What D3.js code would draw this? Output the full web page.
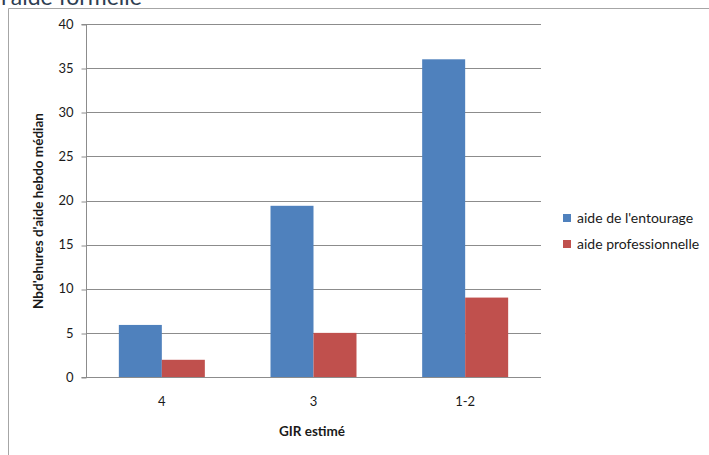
<!DOCTYPE html>
<html>
<head>
<meta charset="utf-8">
<script src="https://cdn.jsdelivr.net/npm/d3@7"></script>
<style>
  html, body { margin: 0; padding: 0; background: #fff; }
  svg { display: block; }
  text { font-family: Lato, "Open Sans", sans-serif; }
</style>
</head>
<body>
<svg id="chart" width="709" height="455"></svg>
<script>
// Median weekly hours of help by estimated GIR level
const categories = ["4", "3", "1-2"];
const seriesNames = ["aide de l'entourage", "aide professionnelle"];
const entourage = [5.9, 19.4, 36];
const professionnelle = [1.95, 5.0, 9.0];
const yTicks = [0, 5, 10, 15, 20, 25, 30, 35, 40];
const colors = ["#4F81BD", "#C0504D"];

const seriesValues = [entourage, professionnelle];
const rows = categories.map((c, i) => ({
  cat: c,
  vals: seriesNames.map((s, j) => ({ key: s, value: seriesValues[j][i] }))
}));

const svg = d3.select("#chart");
const plot = { left: 86, right: 541, top: 24, bottom: 377 };

const x = d3.scaleBand()
  .domain(categories)
  .range([plot.left, plot.right])
  .paddingInner(0.433)
  .paddingOuter(0.2165);

const xs = d3.scaleBand()
  .domain(seriesNames)
  .range([0, x.bandwidth()])
  .padding(0);

const y = d3.scaleLinear()
  .domain([0, 40])
  .range([plot.bottom, plot.top]);

const crisp = v => Math.round(v) + 0.5;

// Page heading, partly above the top edge
svg.append("text")
  .attr("x", 1)
  .attr("y", 5)
  .attr("fill", "#2E3E52")
  .style("font-size", "23px")
  .text("l'aide formelle");

// Chart frame
svg.append("path")
  .attr("d", "M8.5,455 V8.5 H709")
  .attr("fill", "none")
  .attr("stroke", "#a6a6a6")
  .attr("stroke-width", 1);

// Horizontal gridlines
svg.append("g")
  .selectAll("line")
  .data(yTicks.filter(t => t > 0))
  .join("line")
  .attr("x1", plot.left)
  .attr("x2", plot.right)
  .attr("y1", d => crisp(y(d)))
  .attr("y2", d => crisp(y(d)))
  .attr("stroke", "#8c8c8c")
  .attr("stroke-width", 1);

// Bars
const groups = svg.append("g")
  .selectAll("g")
  .data(rows)
  .join("g")
  .attr("transform", d => `translate(${x(d.cat)},0)`);

groups.selectAll("rect")
  .data(d => d.vals)
  .join("rect")
  .attr("x", d => xs(d.key))
  .attr("width", xs.bandwidth())
  .attr("y", d => y(d.value))
  .attr("height", d => y(0) - y(d.value))
  .attr("fill", (d, i) => colors[i]);

// Y axis
const yAxis = svg.append("g")
  .attr("transform", `translate(${plot.left + 0.5},0)`)
  .call(d3.axisLeft(y).tickValues(yTicks).tickSize(5).tickPadding(8).tickFormat(d3.format("d")));
yAxis.select(".domain").attr("stroke", "#8c8c8c").attr("d", `M-5,${crisp(y(40))}H0V${crisp(y(0))}H-5`);
yAxis.selectAll(".tick line").attr("stroke", "#8c8c8c")
  .attr("transform", d => `translate(0,${crisp(y(d)) - y(d)})`);
yAxis.selectAll(".tick text")
  .attr("fill", "#1a1a1a")
  .style("font-size", "13px");

// X axis baseline
svg.append("line")
  .attr("x1", plot.left)
  .attr("x2", plot.right)
  .attr("y1", crisp(y(0)))
  .attr("y2", crisp(y(0)))
  .attr("stroke", "#8c8c8c");

// Category labels
svg.append("g")
  .selectAll("text")
  .data(categories)
  .join("text")
  .attr("x", d => x(d) + x.bandwidth() / 2)
  .attr("y", 406)
  .attr("text-anchor", "middle")
  .attr("fill", "#1a1a1a")
  .style("font-size", "13px")
  .text(d => d);

// Axis titles
svg.append("text")
  .attr("x", 312)
  .attr("y", 436)
  .attr("text-anchor", "middle")
  .attr("fill", "#1a1a1a")
  .style("font-size", "13.5px")
  .style("font-weight", "bold")
  .text("GIR estimé");

svg.append("text")
  .attr("transform", "translate(43,211) rotate(-90)")
  .attr("text-anchor", "middle")
  .attr("fill", "#1a1a1a")
  .style("font-size", "13.5px")
  .style("font-weight", "bold")
  .text("Nbd'ehures d'aide hebdo médian");

// Legend
const legend = svg.append("g")
  .selectAll("g")
  .data(seriesNames)
  .join("g")
  .attr("transform", (d, i) => `translate(563,${214 + i * 26})`);

legend.append("rect")
  .attr("width", 8)
  .attr("height", 8)
  .attr("fill", (d, i) => colors[i]);

legend.append("text")
  .attr("x", 14)
  .attr("y", 8.5)
  .attr("fill", "#1a1a1a")
  .style("font-size", "14px")
  .text(d => d);
</script>
</body>
</html>
